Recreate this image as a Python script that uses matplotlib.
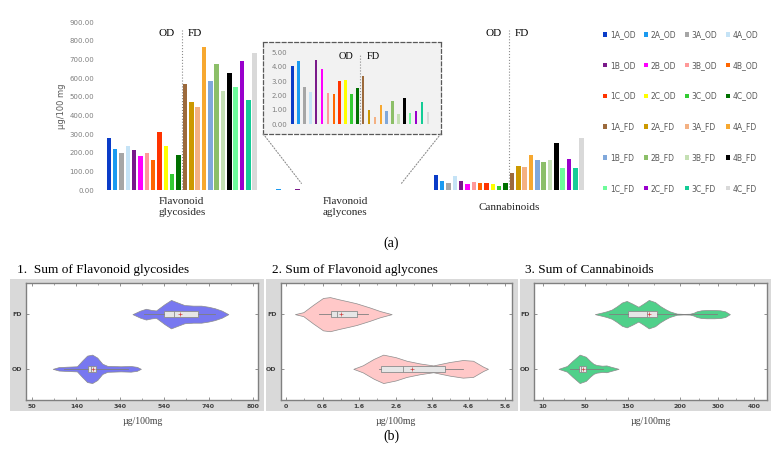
import numpy as np
import matplotlib
matplotlib.use("Agg")
import matplotlib.pyplot as plt
from matplotlib.patches import Rectangle, ConnectionPatch
from matplotlib.ticker import FixedLocator, MultipleLocator

# ---- data ----
series = ["1A_OD", "2A_OD", "3A_OD", "4A_OD", "1B_OD", "2B_OD", "3B_OD", "4B_OD",
          "1C_OD", "2C_OD", "3C_OD", "4C_OD", "1A_FD", "2A_FD", "3A_FD", "4A_FD",
          "1B_FD", "2B_FD", "3B_FD", "4B_FD", "1C_FD", "2C_FD", "3C_FD", "4C_FD"]
colors = ["#0a3cc8", "#1a9af0", "#a6a6a6", "#c5e3f6", "#7a1a8a", "#ff00ff", "#ff9999", "#ff6600",
          "#ff3300", "#ffff00", "#33cc33", "#007000", "#9c6a3c", "#cc9900", "#f4b183", "#f7a830",
          "#80a8db", "#8cbf68", "#c5e0b4", "#000000", "#6dfb9a", "#9900cc", "#14cc96", "#d9d9d9"]
groups = ["Flavonoid\nglycosides", "Flavonoid\naglycones", "Cannabinoids"]
glycosides = [280, 223, 202, 239, 216, 186, 202, 163, 311, 237, 86, 191,
              568, 475, 446, 770, 587, 677, 534, 627, 555, 691, 486, 734]
aglycones = [4.05, 4.4, 2.57, 2.27, 4.47, 3.84, 2.15, 2.1, 2.99, 3.1, 2.13, 2.52,
             3.36, 1.0, 0.49, 1.37, 0.9, 1.62, 0.69, 1.83, 0.81, 0.95, 1.55, 0.83]
cannabinoids = [84, 50, 39, 75, 50, 36, 45, 37, 37, 32, 21, 39,
                91, 132, 125, 187, 161, 154, 163, 252, 120, 166, 120, 282]

# violin profiles: (value, relative density) and box stats [whislo, q1, med, q3, whishi, mean]
gly_od_x = [33, 60, 97, 143, 166, 189, 212, 235, 258, 281, 341, 387, 415, 433]
gly_od_d = [0, 0.12, 0.15, 0.18, 0.57, 0.93, 1.0, 0.79, 0.36, 0.21, 0.18, 0.2, 0.14, 0]
gly_fd_x = [395, 430, 456, 480, 502, 540, 570, 600, 631, 670, 707, 740, 768, 800, 830]
gly_fd_d = [0, 0.25, 0.38, 0.3, 0.26, 0.7, 1.0, 0.82, 0.64, 0.6, 0.6, 0.52, 0.42, 0.25, 0]
gly_box = {"OD": [82, 193, 207, 230, 375, 215], "FD": [448, 540, 585, 692, 770, 611]}

agl_od_x = [1.44, 1.7, 2.0, 2.26, 2.6, 2.9, 3.26, 3.63, 4.08, 4.44, 4.72, 5.0, 5.13]
agl_od_d = [0, 0.25, 0.7, 1.0, 0.82, 0.57, 0.38, 0.24, 0.48, 0.62, 0.57, 0.15, 0]
agl_fd_x = [-0.16, 0.07, 0.34, 0.61, 0.8, 1.07, 1.3, 1.53, 1.89, 2.17, 2.49]
agl_fd_d = [0, 0.14, 0.66, 1.14, 1.2, 1.03, 0.9, 0.76, 0.47, 0.22, 0]
agl_box = {"OD": [2.15, 2.21, 2.8, 3.95, 4.45, 3.05], "FD": [0.5, 0.84, 1.0, 1.55, 1.85, 1.1]}

can_od_x = [25, 33, 38, 45, 52, 62, 70, 77, 90, 100, 110, 120, 128]
can_od_d = [0, 0.2, 0.55, 1.0, 0.85, 0.55, 0.35, 0.27, 0.22, 0.24, 0.15, 0.07, 0]
can_fd_x = [73, 90, 100, 112, 124, 136, 147, 154, 160, 165, 170, 176, 181, 186, 190, 197,
            210, 226, 236, 244, 256, 270, 290, 306, 320, 333]
can_fd_d = [0, 0.12, 0.2, 0.32, 0.55, 0.82, 0.93, 0.75, 0.52, 0.75, 1.0, 0.85, 0.57, 0.35, 0.2,
            0.04, 0.02, 0.03, 0.1, 0.2, 0.27, 0.29, 0.29, 0.27, 0.2, 0]
can_box = {"OD": [36, 44.6, 46.3, 52.3, 92, 48.2], "FD": [106.5, 149.3, 168, 178.2, 296.6, 170.6]}

gly_ticks, gly_ticklabels = [-60, 140, 340, 540, 740, 940], ["50", "140", "340", "540", "740", "800"]
agl_ticks = [-0.4, 0.6, 1.6, 2.6, 3.6, 4.6, 5.6]
agl_ticklabels = ["0", "0.6", "1.6", "2.6", "3.6", "4.6", "5.6"]
can_ticks = [10, 50, 150, 200, 300, 400]
can_ticklabels = ["10", "50", "150", "200", "300", "400"]

# ---- layout ----
W, H = 783, 463
SERIF = ["Liberation Serif", "DejaVu Serif"]


def box(x0, y0, x1, y1):
    return [x0 / W, 1 - y1 / H, (x1 - x0) / W, (y1 - y0) / H]


fig = plt.figure(figsize=(W / 100, H / 100), dpi=100)

# main bar chart
ax = fig.add_axes(box(100, 22.3, 590.5, 190.3))
slot, bw = 0.0388, 0.0275
gx = np.arange(len(groups))
handles = []
for i, name in enumerate(series):
    vals = [glycosides[i], aglycones[i], cannabinoids[i]]
    b = ax.bar(gx + (i - 11.5) * slot, vals, bw, color=colors[i], label=name)
    handles.append(b)
ax.set_xlim(-0.5, 2.5)
ax.set_ylim(0, 900)
ax.set_yticks(np.arange(0, 901, 100))
ax.set_yticklabels([f"{v:.2f}" for v in np.arange(0, 901, 100)])
ax.tick_params(axis="y", length=0, labelsize=5, labelcolor="#7f7f7f", pad=4)
ax.set_xticks([])
for s in ax.spines.values():
    s.set_visible(False)
ax.set_ylabel("µg/100 mg", fontsize=6, color="#595959", labelpad=3)
for g, lab in zip(gx, groups):
    ax.text(g, -0.1, lab, transform=ax.get_xaxis_transform(), ha="center", va="center",
            fontsize=8, family=SERIF, linespacing=1.2, color="#262626")
for g in (0, 2):
    ax.vlines(g, 0, 860, colors="#8c8c8c", linestyles=":", linewidth=0.8)
    ax.text(g - 0.043, 838, "OD", ha="right", va="center", fontsize=8, family=SERIF)
    ax.text(g + 0.037, 838, "FD", ha="left", va="center", fontsize=8, family=SERIF)

# inset with aglycones
ins = fig.add_axes(box(263.3, 42.3, 440.7, 134))
ins.set_facecolor("#f2f2f2")
ins.bar(np.arange(len(series)), aglycones, 0.43, color=colors)
ins.set_xlim(-5.01, 25.2)
ins.set_ylim(-0.674, 5.69)
ins.set_xticks([])
ins.set_yticks(range(6))
ins.set_yticklabels([f"{v:.2f}" for v in range(6)])
ins.tick_params(axis="y", length=0, labelsize=5, labelcolor="#7f7f7f", pad=-17)
for s in ins.spines.values():
    s.set_linestyle((0, (3, 2)))
    s.set_color("#595959")
    s.set_linewidth(0.9)
ins.vlines(11.5, 0, 4.88, colors="#8c8c8c", linestyles=":", linewidth=0.8)
ins.text(10.4, 4.67, "OD", ha="right", va="center", fontsize=7.5, family=SERIF)
ins.text(12.6, 4.67, "FD", ha="left", va="center", fontsize=7.5, family=SERIF)
for xa, xb, yb in ((0, 0.732, 37), (1, 1.339, 32)):
    fig.add_artist(ConnectionPatch((xa, 0), (xb, yb), coordsA=ins.transAxes, coordsB=ax.transData,
                                   linestyle=":", color="#8c8c8c", linewidth=0.8))

order = [r * 4 + c for c in range(4) for r in range(6)]
fig.legend([handles[k] for k in order], [series[k] for k in order], loc="upper left",
           bbox_to_anchor=(603 / W, 1 - 30 / H), ncol=4, frameon=False, fontsize=5.5,
           handlelength=0.55, handleheight=0.55, handletextpad=0.35, columnspacing=1.1,
           labelspacing=2.85, borderpad=0, borderaxespad=0, labelcolor="#595959")

fig.text(391 / W, 1 - 243 / H, "(a)", ha="center", va="center", fontsize=10, family=SERIF)
fig.text(391 / W, 1 - 436 / H, "(b)", ha="center", va="center", fontsize=10, family=SERIF)

# ---- violin panels ----
can_vals = [-40, 10, 50, 150, 200, 300, 400, 500]
can_pos = [489.8, 542.7, 585, 628, 680, 718, 754, 790]


def can_fwd(x):
    return np.interp(x, can_vals, can_pos)


def can_inv(p):
    return np.interp(p, can_pos, can_vals)


panels = [
    dict(bg=(10, 279, 264, 411), area=(26.3, 283, 258.3, 400), title="1.  Sum of Flavonoid glycosides",
         tx=16.7, color="#7878f0", od=(gly_od_x, gly_od_d), fd=(gly_fd_x, gly_fd_d), stats=gly_box,
         xlim=(-87, 966), ticks=gly_ticks, labels=gly_ticklabels, minor=100),
    dict(bg=(266, 279, 518, 411), area=(280.7, 283, 511.7, 400), title="2. Sum of Flavonoid aglycones",
         tx=271.7, color="#ffc8c8", od=(agl_od_x, agl_od_d), fd=(agl_fd_x, agl_fd_d), stats=agl_box,
         xlim=(-0.55, 5.78), ticks=agl_ticks, labels=agl_ticklabels, minor=0.5),
    dict(bg=(520, 279, 771, 411), area=(534, 283, 767.3, 400), title="3. Sum of Cannabinoids",
         tx=525, color="#50d08a", od=(can_od_x, can_od_d), fd=(can_fd_x, can_fd_d), stats=can_box,
         xlim=(1.8, 437), ticks=can_ticks, labels=can_ticklabels, minor=None),
]

for k, p in enumerate(panels):
    x0, y0, x1, y1 = p["bg"]
    fig.add_artist(Rectangle((x0 / W, 1 - y1 / H), (x1 - x0) / W, (y1 - y0) / H,
                             transform=fig.transFigure, facecolor="#d9d9d9", edgecolor="none", zorder=0))
    fig.text(p["tx"] / W, 1 - 270 / H, p["title"], ha="left", va="center", fontsize=9.5, family=SERIF)
    a = fig.add_axes(box(*p["area"]))
    a.set_zorder(1)
    if k == 2:
        a.set_xscale("function", functions=(can_fwd, can_inv))
    for pos, (xs, ds) in ((0, p["od"]), (1, p["fd"])):
        xs, ds = np.asarray(xs, float), np.asarray(ds, float)
        a.fill_between(xs, pos - 0.26 * ds, pos + 0.26 * ds, facecolor=p["color"],
                       edgecolor="#8c8c8c", linewidth=0.5, zorder=1)
    stats = []
    for key in ("OD", "FD"):
        lo, q1, med, q3, hi, mean = p["stats"][key]
        stats.append(dict(whislo=lo, q1=q1, med=med, q3=q3, whishi=hi, mean=mean, fliers=[]))
    a.bxp(stats, positions=[0, 1], widths=0.1, orientation="horizontal", patch_artist=True,
          showmeans=True, showcaps=False, manage_ticks=False, zorder=2,
          boxprops=dict(facecolor="#e6e6e6", edgecolor="#8c8c8c", linewidth=0.6),
          whiskerprops=dict(color="#7f7f7f", linewidth=0.6),
          medianprops=dict(color="#8c8c8c", linewidth=0.6),
          meanprops=dict(marker="+", markeredgecolor="#d04040", markersize=2.5, markeredgewidth=0.5))
    a.set_xlim(*p["xlim"])
    a.set_ylim(-0.57, 1.57)
    a.set_xticks(p["ticks"])
    a.set_xticklabels(p["labels"])
    if p["minor"]:
        a.xaxis.set_minor_locator(MultipleLocator(p["minor"], offset=p["ticks"][0]))
    else:
        a.xaxis.set_minor_locator(FixedLocator([30, 100, 175, 250, 350]))
    a.set_yticks([0, 1])
    a.set_yticklabels(["OD", "FD"])
    a.tick_params(which="both", direction="in", top=True, right=True, color="#7f7f7f")
    a.tick_params(which="major", length=2.5, width=0.6, labelsize=4.5, labelcolor="#404040", pad=3)
    a.tick_params(which="minor", length=1.5, width=0.5)
    for lab in a.get_xticklabels() + a.get_yticklabels():
        lab.set_fontweight("bold")
    for s in a.spines.values():
        s.set_color("#808080")
        s.set_linewidth(1)
    a.set_xlabel("µg/100mg", fontsize=7, family=SERIF, color="#404040", labelpad=6)

fig.savefig("out.png", dpi=100)
